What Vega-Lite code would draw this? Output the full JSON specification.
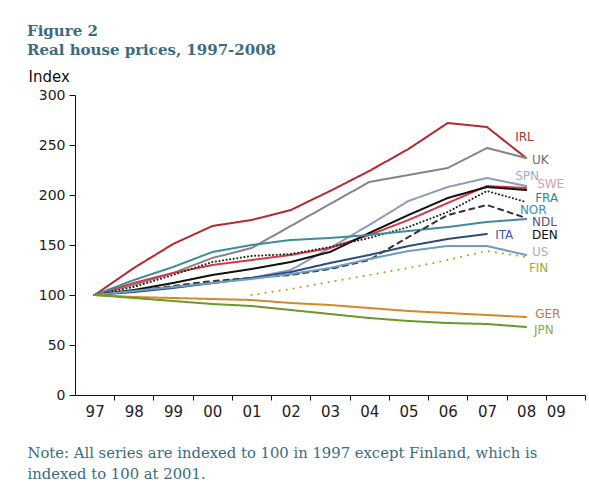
{
  "$schema": "https://vega.github.io/schema/vega-lite/v6.json",
  "width": 510,
  "height": 300,
  "autosize": {"type": "none"},
  "padding": {"left": 75, "top": 95, "right": 4, "bottom": 97},
  "background": "white",
  "title": {
    "text": ["Figure 2", "Real house prices, 1997-2008"],
    "anchor": "start",
    "frame": "group",
    "font": "DejaVu Serif",
    "fontSize": 15,
    "fontWeight": "bold",
    "color": "#3b6b7d",
    "lineHeight": 19,
    "dx": -48,
    "baseline": "top",
    "offset": 0,
    "dy": -11
  },
  "config": {
    "view": {"stroke": null},
    "axis": {
      "domainColor": "#111",
      "tickColor": "#111",
      "labelFont": "DejaVu Sans",
      "labelColor": "#222",
      "labelFontSize": 14,
      "grid": false
    }
  },
  "datasets": {
    "prices": [
      {"c": "IRL", "year": 1997, "v": 100}, {"c": "IRL", "year": 1998, "v": 127}, {"c": "IRL", "year": 1999, "v": 151}, {"c": "IRL", "year": 2000, "v": 169}, {"c": "IRL", "year": 2001, "v": 175}, {"c": "IRL", "year": 2002, "v": 185}, {"c": "IRL", "year": 2003, "v": 204}, {"c": "IRL", "year": 2004, "v": 224}, {"c": "IRL", "year": 2005, "v": 246}, {"c": "IRL", "year": 2006, "v": 272}, {"c": "IRL", "year": 2007, "v": 268}, {"c": "IRL", "year": 2008, "v": 237},
      {"c": "UK", "year": 1997, "v": 100}, {"c": "UK", "year": 1998, "v": 110}, {"c": "UK", "year": 1999, "v": 122}, {"c": "UK", "year": 2000, "v": 137}, {"c": "UK", "year": 2001, "v": 147}, {"c": "UK", "year": 2002, "v": 169}, {"c": "UK", "year": 2003, "v": 191}, {"c": "UK", "year": 2004, "v": 213}, {"c": "UK", "year": 2005, "v": 220}, {"c": "UK", "year": 2006, "v": 227}, {"c": "UK", "year": 2007, "v": 247}, {"c": "UK", "year": 2008, "v": 237},
      {"c": "SPN", "year": 1997, "v": 100}, {"c": "SPN", "year": 1998, "v": 104}, {"c": "SPN", "year": 1999, "v": 108}, {"c": "SPN", "year": 2000, "v": 112}, {"c": "SPN", "year": 2001, "v": 117}, {"c": "SPN", "year": 2002, "v": 125}, {"c": "SPN", "year": 2003, "v": 147}, {"c": "SPN", "year": 2004, "v": 170}, {"c": "SPN", "year": 2005, "v": 194}, {"c": "SPN", "year": 2006, "v": 208}, {"c": "SPN", "year": 2007, "v": 217}, {"c": "SPN", "year": 2008, "v": 209},
      {"c": "SWE", "year": 1997, "v": 100}, {"c": "SWE", "year": 1998, "v": 112}, {"c": "SWE", "year": 1999, "v": 122}, {"c": "SWE", "year": 2000, "v": 130}, {"c": "SWE", "year": 2001, "v": 135}, {"c": "SWE", "year": 2002, "v": 140}, {"c": "SWE", "year": 2003, "v": 147}, {"c": "SWE", "year": 2004, "v": 160}, {"c": "SWE", "year": 2005, "v": 175}, {"c": "SWE", "year": 2006, "v": 192}, {"c": "SWE", "year": 2007, "v": 209}, {"c": "SWE", "year": 2008, "v": 207},
      {"c": "DEN", "year": 1997, "v": 100}, {"c": "DEN", "year": 1998, "v": 105}, {"c": "DEN", "year": 1999, "v": 112}, {"c": "DEN", "year": 2000, "v": 120}, {"c": "DEN", "year": 2001, "v": 126}, {"c": "DEN", "year": 2002, "v": 133}, {"c": "DEN", "year": 2003, "v": 143}, {"c": "DEN", "year": 2004, "v": 162}, {"c": "DEN", "year": 2005, "v": 180}, {"c": "DEN", "year": 2006, "v": 197}, {"c": "DEN", "year": 2007, "v": 208}, {"c": "DEN", "year": 2008, "v": 205},
      {"c": "FRA", "year": 1997, "v": 100}, {"c": "FRA", "year": 1998, "v": 108}, {"c": "FRA", "year": 1999, "v": 120}, {"c": "FRA", "year": 2000, "v": 133}, {"c": "FRA", "year": 2001, "v": 139}, {"c": "FRA", "year": 2002, "v": 141}, {"c": "FRA", "year": 2003, "v": 148}, {"c": "FRA", "year": 2004, "v": 157}, {"c": "FRA", "year": 2005, "v": 168}, {"c": "FRA", "year": 2006, "v": 183}, {"c": "FRA", "year": 2007, "v": 204}, {"c": "FRA", "year": 2008, "v": 193},
      {"c": "NOR", "year": 1997, "v": 100}, {"c": "NOR", "year": 1998, "v": 115}, {"c": "NOR", "year": 1999, "v": 128}, {"c": "NOR", "year": 2000, "v": 143}, {"c": "NOR", "year": 2001, "v": 150}, {"c": "NOR", "year": 2002, "v": 155}, {"c": "NOR", "year": 2003, "v": 157}, {"c": "NOR", "year": 2004, "v": 160}, {"c": "NOR", "year": 2005, "v": 164}, {"c": "NOR", "year": 2006, "v": 168}, {"c": "NOR", "year": 2007, "v": 173}, {"c": "NOR", "year": 2008, "v": 176},
      {"c": "NDL", "year": 1997, "v": 100}, {"c": "NDL", "year": 1998, "v": 104}, {"c": "NDL", "year": 1999, "v": 109}, {"c": "NDL", "year": 2000, "v": 114}, {"c": "NDL", "year": 2001, "v": 117}, {"c": "NDL", "year": 2002, "v": 120}, {"c": "NDL", "year": 2003, "v": 126}, {"c": "NDL", "year": 2004, "v": 135}, {"c": "NDL", "year": 2005, "v": 158}, {"c": "NDL", "year": 2006, "v": 180}, {"c": "NDL", "year": 2007, "v": 190}, {"c": "NDL", "year": 2008, "v": 177},
      {"c": "ITA", "year": 1997, "v": 100}, {"c": "ITA", "year": 1998, "v": 103}, {"c": "ITA", "year": 1999, "v": 107}, {"c": "ITA", "year": 2000, "v": 112}, {"c": "ITA", "year": 2001, "v": 117}, {"c": "ITA", "year": 2002, "v": 123}, {"c": "ITA", "year": 2003, "v": 132}, {"c": "ITA", "year": 2004, "v": 140}, {"c": "ITA", "year": 2005, "v": 149}, {"c": "ITA", "year": 2006, "v": 156}, {"c": "ITA", "year": 2007, "v": 161},
      {"c": "US", "year": 1997, "v": 100}, {"c": "US", "year": 1998, "v": 104}, {"c": "US", "year": 1999, "v": 108}, {"c": "US", "year": 2000, "v": 112}, {"c": "US", "year": 2001, "v": 116}, {"c": "US", "year": 2002, "v": 121}, {"c": "US", "year": 2003, "v": 127}, {"c": "US", "year": 2004, "v": 136}, {"c": "US", "year": 2005, "v": 144}, {"c": "US", "year": 2006, "v": 149}, {"c": "US", "year": 2007, "v": 149}, {"c": "US", "year": 2008, "v": 140},
      {"c": "FIN", "year": 2001, "v": 100}, {"c": "FIN", "year": 2002, "v": 106}, {"c": "FIN", "year": 2003, "v": 113}, {"c": "FIN", "year": 2004, "v": 120}, {"c": "FIN", "year": 2005, "v": 127}, {"c": "FIN", "year": 2006, "v": 135}, {"c": "FIN", "year": 2007, "v": 144}, {"c": "FIN", "year": 2008, "v": 138},
      {"c": "GER", "year": 1997, "v": 100}, {"c": "GER", "year": 1998, "v": 98}, {"c": "GER", "year": 1999, "v": 97}, {"c": "GER", "year": 2000, "v": 96}, {"c": "GER", "year": 2001, "v": 95}, {"c": "GER", "year": 2002, "v": 92}, {"c": "GER", "year": 2003, "v": 90}, {"c": "GER", "year": 2004, "v": 87}, {"c": "GER", "year": 2005, "v": 84}, {"c": "GER", "year": 2006, "v": 82}, {"c": "GER", "year": 2007, "v": 80}, {"c": "GER", "year": 2008, "v": 78},
      {"c": "JPN", "year": 1997, "v": 100}, {"c": "JPN", "year": 1998, "v": 97}, {"c": "JPN", "year": 1999, "v": 94}, {"c": "JPN", "year": 2000, "v": 91}, {"c": "JPN", "year": 2001, "v": 89}, {"c": "JPN", "year": 2002, "v": 85}, {"c": "JPN", "year": 2003, "v": 81}, {"c": "JPN", "year": 2004, "v": 77}, {"c": "JPN", "year": 2005, "v": 74}, {"c": "JPN", "year": 2006, "v": 72}, {"c": "JPN", "year": 2007, "v": 71}, {"c": "JPN", "year": 2008, "v": 68}
    ],
    "labels": [
      {"c": "IRL", "x": 2007.72, "y": 258},
      {"c": "UK", "x": 2008.15, "y": 235},
      {"c": "SPN", "x": 2007.72, "y": 219},
      {"c": "SWE", "x": 2008.28, "y": 211},
      {"c": "FRA", "x": 2008.23, "y": 197},
      {"c": "NOR", "x": 2007.84, "y": 185},
      {"c": "NDL", "x": 2008.15, "y": 173},
      {"c": "DEN", "x": 2008.15, "y": 160},
      {"c": "ITA", "x": 2007.21, "y": 160},
      {"c": "US", "x": 2008.15, "y": 143},
      {"c": "FIN", "x": 2008.07, "y": 127},
      {"c": "GER", "x": 2008.23, "y": 81},
      {"c": "JPN", "x": 2008.2, "y": 65}
    ]
  },
  "layer": [
    {
      "data": {"name": "prices"},
      "mark": {"type": "line", "strokeCap": "round", "strokeJoin": "round"},
      "encoding": {
        "x": {
          "field": "year",
          "type": "quantitative",
          "scale": {"domain": [1996.5, 2009.5], "nice": false, "zero": false},
          "axis": {
            "values": [1997.5, 1998.5, 1999.5, 2000.5, 2001.5, 2002.5, 2003.5, 2004.5, 2005.5, 2006.5, 2007.5, 2008.5, 2009.5],
            "labelExpr": "substring(format(datum.value - 0.5, 'd'), 2)",
            "labelOffset": -19.6,
            "tickSize": 5,
            "labelPadding": 4,
            "labelFontSize": 15,
            "title": ["Note: All series are indexed to 100 in 1997 except Finland, which is", "indexed to 100 at 2001."],
            "titleFont": "DejaVu Serif",
            "titleFontSize": 14.8,
            "titleFontWeight": "normal",
            "titleColor": "#3b6b7d",
            "titleX": -48,
            "titleY": 62,
            "titleAlign": "left",
            "titleBaseline": "alphabetic",
            "titleLineHeight": 21
          }
        },
        "y": {
          "field": "v",
          "type": "quantitative",
          "scale": {"domain": [0, 300], "nice": false},
          "axis": {
            "values": [0, 50, 100, 150, 200, 250, 300],
            "tickSize": 6,
            "labelPadding": 4,
            "title": "Index",
            "titleAngle": 0,
            "titleFont": "DejaVu Sans",
            "titleFontSize": 15,
            "titleFontWeight": "normal",
            "titleColor": "#111",
            "titleX": -47,
            "titleY": -14,
            "titleAlign": "left",
            "titleBaseline": "alphabetic"
          }
        },
        "stroke": {
          "field": "c",
          "type": "nominal",
          "scale": {
            "domain": ["JPN", "GER", "FIN", "US", "ITA", "NDL", "NOR", "FRA", "DEN", "SWE", "SPN", "UK", "IRL"],
            "range": ["#6a9a28", "#d8862a", "#94b01a", "#6d9dc0", "#2c4c80", "#333333", "#3c8c9c", "#222222", "#111111", "#d63a48", "#8e9cb8", "#858585", "#b52a2e"]
          },
          "legend": null
        },
        "strokeDash": {
          "field": "c",
          "type": "nominal",
          "scale": {
            "domain": ["JPN", "GER", "FIN", "US", "ITA", "NDL", "NOR", "FRA", "DEN", "SWE", "SPN", "UK", "IRL"],
            "range": [[1, 0], [1, 0], [0.1, 7], [1, 0], [1, 0], [5, 5], [1, 0], [0.1, 3.5], [1, 0], [1, 0], [1, 0], [1, 0], [1, 0]]
          },
          "legend": null
        },
        "strokeWidth": {
          "field": "c",
          "type": "nominal",
          "scale": {
            "domain": ["JPN", "GER", "FIN", "US", "ITA", "NDL", "NOR", "FRA", "DEN", "SWE", "SPN", "UK", "IRL"],
            "range": [2, 2, 4.5, 2, 2, 1.8, 2, 2.4, 2.2, 2, 2, 2.2, 2.5]
          },
          "legend": null
        }
      }
    },
    {
      "data": {"name": "labels"},
      "mark": {"type": "text", "align": "left", "baseline": "middle", "font": "DejaVu Sans", "fontSize": 12},
      "encoding": {
        "x": {"field": "x", "type": "quantitative"},
        "y": {"field": "y", "type": "quantitative"},
        "text": {"field": "c"},
        "fill": {
          "field": "c",
          "type": "nominal",
          "scale": {
            "domain": ["IRL", "UK", "SPN", "SWE", "FRA", "NOR", "NDL", "DEN", "ITA", "US", "FIN", "GER", "JPN"],
            "range": ["#a8343a", "#6e6e6e", "#98aed8", "#d9a0a8", "#2a8a8a", "#3a8fa8", "#6a4a90", "#111111", "#3a5aa8", "#a8b0c8", "#98a838", "#c07838", "#84b040"]
          },
          "legend": null
        }
      }
    }
  ]
}
